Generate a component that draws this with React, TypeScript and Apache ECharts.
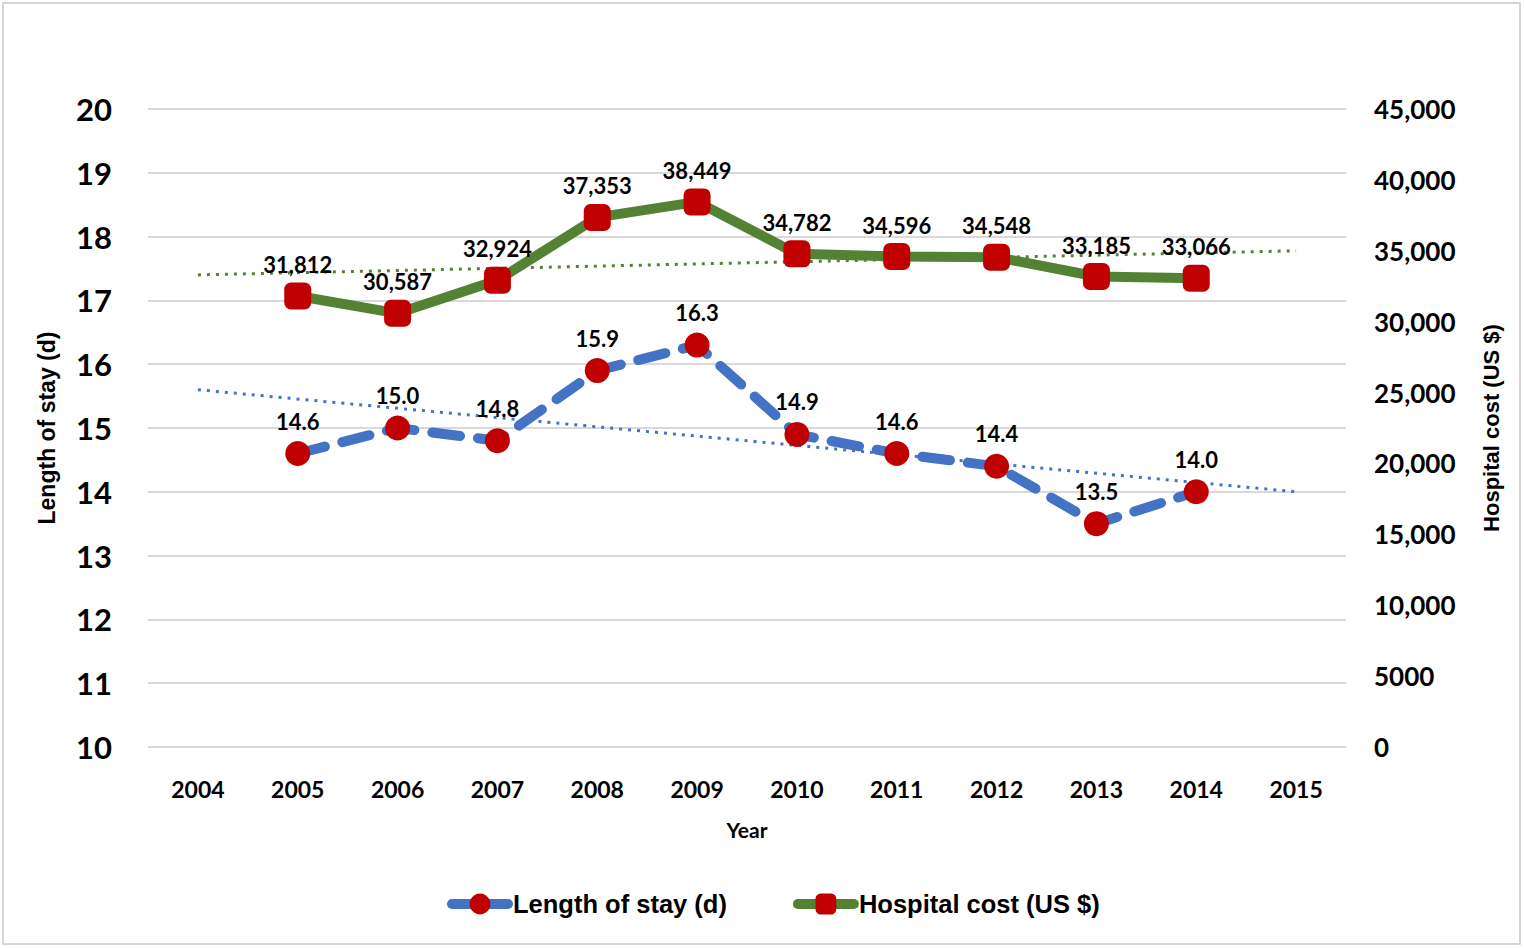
import React, { useEffect, useRef } from "react";
import * as echarts from "echarts";

const years = ["2004", "2005", "2006", "2007", "2008", "2009", "2010", "2011", "2012", "2013", "2014", "2015"];
const dataYears = ["2005", "2006", "2007", "2008", "2009", "2010", "2011", "2012", "2013", "2014"];
const lengthOfStay = [14.6, 15.0, 14.8, 15.9, 16.3, 14.9, 14.6, 14.4, 13.5, 14.0];
const hospitalCost = [31812, 30587, 32924, 37353, 38449, 34782, 34596, 34548, 33185, 33066];
const trendYears = ["2004", "2015"];
const losTrend = [15.6, 14.0];
const costTrend = [33300, 35000];

const BLUE = "#4472C4";
const GREEN = "#548235";
const RED = "#C00000";
const TICK_FONT = "Lato";

export default function App() {
  const ref = useRef<HTMLDivElement>(null);
  useEffect(() => {
    document.body.style.margin = "0";
    const chart = echarts.init(ref.current!, null, { renderer: "svg" });
    const fmtCost = (v: number) => (v >= 10000 ? v.toLocaleString("en-US") : String(v));
    chart.setOption({
      animation: false,
      backgroundColor: "#ffffff",
      graphic: [
        {
          type: "rect",
          shape: { x: 3, y: 3, width: 1517, height: 941 },
          style: { fill: "none", stroke: "#d6d6d6", lineWidth: 2 },
          silent: true,
        },
      ],
      grid: { left: 148, right: 178, top: 109, bottom: 201, containLabel: false },
      legend: {
        bottom: 26,
        left: 442,
        itemWidth: 56,
        itemHeight: 26,
        itemGap: 66,
        lineStyle: { width: 10, type: "solid", cap: "round" },
        textStyle: { fontFamily: "Liberation Sans", fontWeight: "bold", fontSize: 25.5, color: "#000" },
        data: ["Length of stay (d)", "Hospital cost (US $)"],
      },
      xAxis: {
        type: "category",
        data: years,
        boundaryGap: true,
        name: "Year",
        nameLocation: "middle",
        nameGap: 72,
        nameTextStyle: { fontFamily: TICK_FONT, fontWeight: "bold", fontSize: 21, color: "#000" },
        axisLine: { show: false },
        axisTick: { show: false },
        axisLabel: { margin: 30, fontFamily: TICK_FONT, fontWeight: "bold", fontSize: 23, color: "#000" },
      },
      yAxis: [
        {
          type: "value",
          min: 10,
          max: 20,
          interval: 1,
          position: "left",
          name: "Length of stay (d)",
          nameLocation: "middle",
          nameRotate: 90,
          nameGap: 90,
          nameTextStyle: { fontFamily: "Liberation Sans", fontWeight: "bold", fontSize: 23, color: "#000" },
          axisLine: { show: false },
          axisTick: { show: false },
          axisLabel: { margin: 36, fontFamily: TICK_FONT, fontWeight: "bold", fontSize: 31, color: "#000" },
          splitLine: { lineStyle: { color: "#d9d9d9", width: 2 } },
        },
        {
          type: "value",
          min: 0,
          max: 45000,
          interval: 5000,
          position: "right",
          name: "Hospital cost (US $)",
          nameLocation: "middle",
          nameRotate: 90,
          nameGap: 134,
          nameTextStyle: { fontFamily: "Liberation Sans", fontWeight: "bold", fontSize: 22, color: "#000" },
          axisLine: { show: false },
          axisTick: { show: false },
          axisLabel: {
            margin: 28,
            fontFamily: TICK_FONT,
            fontWeight: "bold",
            fontSize: 26,
            color: "#000",
            formatter: fmtCost,
          },
          splitLine: { show: false },
        },
      ],
      series: [
        {
          name: "LOS trend",
          type: "line",
          yAxisIndex: 0,
          data: trendYears.map((y, i) => [y, losTrend[i]]),
          symbol: "none",
          lineStyle: { color: BLUE, width: 3, type: [3, 6] },
          silent: true,
          z: 1,
        },
        {
          name: "Cost trend",
          type: "line",
          yAxisIndex: 1,
          data: trendYears.map((y, i) => [y, costTrend[i]]),
          symbol: "none",
          lineStyle: { color: GREEN, width: 3, type: [3, 6] },
          silent: true,
          z: 1,
        },
        {
          name: "Length of stay (d)",
          type: "line",
          yAxisIndex: 0,
          data: dataYears.map((y, i) => [y, lengthOfStay[i]]),
          symbol: "circle",
          symbolSize: 25,
          itemStyle: { color: RED },
          lineStyle: { color: BLUE, width: 10, type: [28, 18], cap: "round" },
          label: {
            show: true,
            position: "top",
            distance: 9,
            formatter: (p: any) => Number(p.value[1]).toFixed(1),
            fontFamily: TICK_FONT,
            fontWeight: "bold",
            fontSize: 22,
            color: "#000",
          },
          z: 3,
        },
        {
          name: "Hospital cost (US $)",
          type: "line",
          yAxisIndex: 1,
          data: dataYears.map((y, i) => [y, hospitalCost[i]]),
          symbol: "roundRect",
          symbolSize: 27,
          itemStyle: { color: RED },
          lineStyle: { color: GREEN, width: 10 },
          label: {
            show: true,
            position: "top",
            distance: 7,
            formatter: (p: any) => Number(p.value[1]).toLocaleString("en-US"),
            fontFamily: TICK_FONT,
            fontWeight: "bold",
            fontSize: 22,
            color: "#000",
          },
          z: 3,
        },
      ],
    });
    return () => chart.dispose();
  }, []);
  return <div ref={ref} style={{ width: 1524, height: 948 }} />;
}
